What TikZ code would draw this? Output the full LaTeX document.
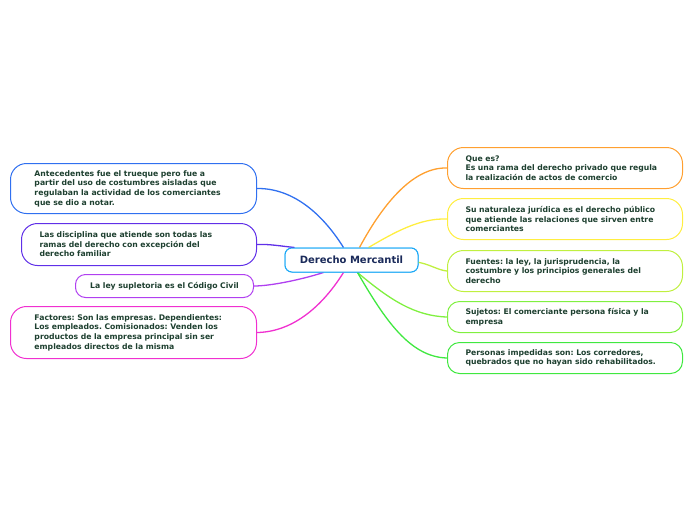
\documentclass[tikz,border=0pt]{standalone}
\usepackage{fontspec}
\setmainfont{DejaVu Sans}
\usetikzlibrary{calc}
\definecolor{txt}{HTML}{1E4030}
\definecolor{cnavy}{HTML}{1A2A5A}
\definecolor{cblue}{HTML}{3070F0}
\definecolor{cpurp}{HTML}{6030E8}
\definecolor{cviol}{HTML}{B040F0}
\definecolor{cmag}{HTML}{F030D0}
\definecolor{corg}{HTML}{FFA030}
\definecolor{cyel}{HTML}{FFEE40}
\definecolor{cyg}{HTML}{C0F040}
\definecolor{cgr1}{HTML}{80F040}
\definecolor{cgr2}{HTML}{40E840}
\begin{document}
\frenchspacing
\begin{tikzpicture}[x=1pt,y=-1pt,
  box/.style={draw,line width=1pt,rounded corners=16pt,fill=white,inner xsep=0pt,anchor=north west,
    font=\fontsize{7.7}{9.6}\selectfont\bfseries,text=txt,align=left},
  center/.style={draw=cblue!60!cyan,line width=1pt,rounded corners=7pt,fill=white,minimum width=133pt,minimum height=24pt,
  font=\fontsize{10}{12}\selectfont\bfseries,text=cnavy},
  con/.style={line width=1.3pt}]
\useasboundingbox (0,0) rectangle (696,520);
\node[center] (c) at (351.5,260) {Derecho Mercantil};
% left
\node[box,draw=cblue,minimum width=246pt,minimum height=50pt,text width=222pt,inner xsep=12pt] (l1) at (10,163) {\hspace*{12pt}\parbox{205pt}{Antecedentes fue el trueque pero fue a\\partir del uso de costumbres aisladas que\\regulaban la actividad de los comerciantes\\que se dio a notar.}};
\node[box,draw=cpurp,minimum width=235pt,minimum height=42pt,text width=215pt,inner xsep=10pt] (l2) at (21,223) {\hspace*{8pt}\parbox{205pt}{Las disciplina que atiende son todas las\\ramas del derecho con excepción del\\derecho familiar}};
\node[box,draw=cviol,minimum width=178pt,minimum height=23pt,rounded corners=10pt,inner xsep=0pt,align=center,text width=178pt] (l3) at (75,274) {La ley supletoria es el Código Civil};
\node[box,draw=cmag,minimum width=246pt,minimum height=52pt,text width=222pt,inner xsep=12pt] (l4) at (10,306) {\hspace*{12pt}\parbox{210pt}{Factores: Son las empresas. Dependientes:\\Los empleados. Comisionados: Venden los\\productos de la empresa principal sin ser\\empleados directos de la misma}};
% right
\node[box,draw=corg,minimum width=235pt,minimum height=41pt,text width=217pt,inner xsep=9pt] (r1) at (447,147) {\hspace*{9pt}\parbox{208pt}{Que es?\\Es una rama del derecho privado que regula\\la realización de actos de comercio}};
\node[box,draw=cyel,minimum width=235pt,minimum height=41pt,text width=217pt,inner xsep=9pt] (r2) at (447,198) {\hspace*{9pt}\parbox{208pt}{Su naturaleza jurídica es el derecho público\\que atiende las relaciones que sirven entre\\comerciantes}};
\node[box,draw=cyg,minimum width=235pt,minimum height=41pt,text width=217pt,inner xsep=9pt] (r3) at (447,250) {\hspace*{9pt}\parbox{208pt}{Fuentes: la ley, la jurisprudencia, la\\costumbre y los principios generales del\\derecho}};
\node[box,draw=cgr1,minimum width=235pt,minimum height=31pt,text width=217pt,inner xsep=9pt,rounded corners=12pt] (r4) at (447,301) {\hspace*{9pt}\parbox{208pt}{Sujetos: El comerciante persona física y la\\empresa}};
\node[box,draw=cgr2,minimum width=235pt,minimum height=31pt,text width=217pt,inner xsep=9pt,rounded corners=12pt] (r5) at (447,342) {\hspace*{9pt}\parbox{208pt}{Personas impedidas son: Los corredores,\\quebrados que no hayan sido rehabilitados.}};
% connectors
\draw[con,cblue] ($(c.north)+(-8,0)$) .. controls (320,210) and (290,188) .. (l1.east);
\draw[con,cpurp] ($(c.north west)+(10,0)$) .. controls (280,246) and (270,244) .. (l2.east);
\draw[con,cviol] ($(c.south)+(-28,0)$) .. controls (300,280) and (270,286) .. (l3.east);
\draw[con,cmag] ($(c.south)+(-8,0)$) .. controls (320,310) and (290,332) .. (l4.east);
\draw[con,corg] ($(c.north)+(8,0)$) .. controls (385,200) and (415,167) .. (r1.west);
\draw[con,cyel] ($(c.north)+(17,0)$) .. controls (395,232) and (420,218) .. (r2.west);
\draw[con,cyg] ($(c.east)+(-2,2)$) .. controls (430,264) and (437,270) .. (r3.west);
\draw[con,cgr1] ($(c.south)+(6,0)$) .. controls (390,300) and (415,316) .. (r4.west);
\draw[con,cgr2] ($(c.south)+(6,0)$) .. controls (385,320) and (410,357) .. (r5.west);
\node[center] at (351.5,260) {Derecho Mercantil};
\end{tikzpicture}
\end{document}
